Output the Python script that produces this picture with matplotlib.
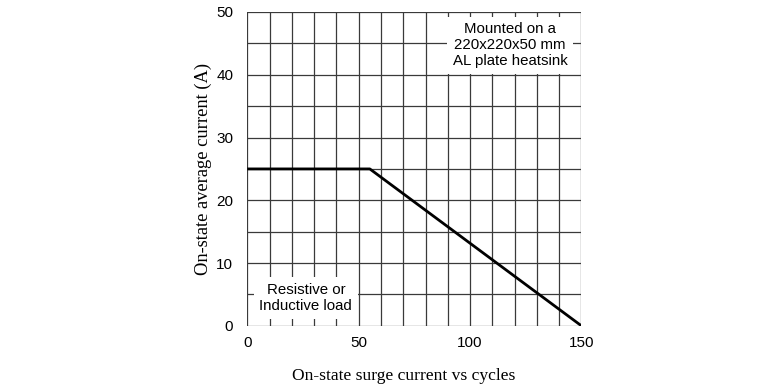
import numpy as np
import matplotlib
matplotlib.use("Agg")
from matplotlib import pyplot as plt

# derating curve: on-state average current vs surge cycles
cycles = [0, 55, 150]
current = [25, 25, 0]

xticks = [0, 50, 100, 150]
yticks = [0, 10, 20, 30, 40, 50]

fig = plt.figure(figsize=(7.8, 3.87), dpi=100)
ax = fig.add_axes([0.317, 0.158, 0.4285, 0.811])

# grid: every 10 cycles, every 5 A
for x in np.arange(0, 151, 10):
    ax.axvline(x, color='#3a3a3a', lw=0.9, zorder=1)
for y in np.arange(0, 51, 5):
    ax.axhline(y, color='#3a3a3a', lw=0.9, zorder=1)

ax.plot(cycles, current, color='black', lw=2, zorder=4, solid_capstyle='butt')

ax.set_xlim(0, 150)
ax.set_ylim(0, 50)
ax.set_xticks(xticks)
ax.set_yticks(yticks)
ax.tick_params(length=0, labelsize=11)
ax.tick_params(axis='x', pad=7.5)
ax.tick_params(axis='y', pad=10)
for lab in ax.get_xticklabels() + ax.get_yticklabels():
    lab.set_fontfamily('Liberation Sans')
for s in ax.spines.values():
    s.set_visible(False)

ax.text(118, 44.7, 'Mounted on a\n220x220x50 mm\nAL plate heatsink',
        ha='center', va='center', fontsize=10.8, family='Liberation Sans',
        linespacing=1.2, zorder=5,
        bbox=dict(facecolor='white', edgecolor='none', pad=4))
ax.text(26.3, 4.45, 'Resistive or\nInductive load',
        ha='center', va='center', fontsize=10.8, family='Liberation Sans',
        linespacing=1.2, zorder=5,
        bbox=dict(facecolor='white', edgecolor='none', pad=4))

ax.set_ylabel('On-state average current (A)', family='Liberation Serif',
              fontsize=13.3, labelpad=3)
fig.text(0.517, 0.018, 'On-state surge current vs cycles', ha='center',
         va='baseline', family='Liberation Serif', fontsize=12.6)

fig.savefig('out.png', dpi=100)
